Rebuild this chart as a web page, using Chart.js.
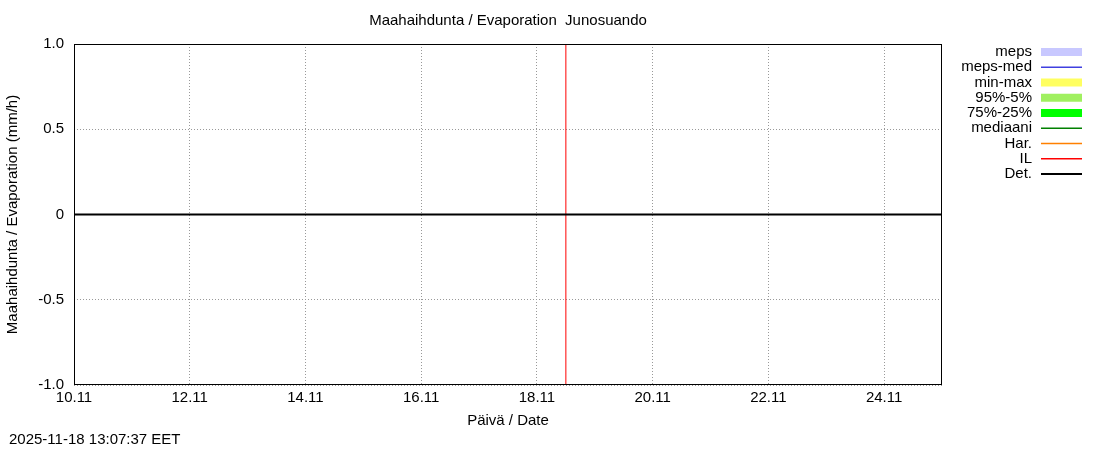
<!DOCTYPE html>
<html><head><meta charset="utf-8">
<script src="https://cdn.jsdelivr.net/npm/chart.js@4"></script>
<style>body{margin:0;background:#fff}#w{width:1100px;height:450px}</style>
</head><body><div id="w"><canvas id="c"></canvas></div>
<script>
const title = "Maahaihdunta / Evaporation  Junosuando";
const xTickLabels = ["10.11","12.11","14.11","16.11","18.11","20.11","22.11","24.11"]; // days from 10.11: 0,2,..14
const xTickDays = [0,2,4,6,8,10,12,14];
const yTicks = [-1,-0.5,0,0.5,1];
const detX = [0,15];
const detY = [0,0];
const ilX = [8.5,8.5];
const ilY = [-1,1];
const legendLabels = ["meps","meps-med","min-max","95%-5%","75%-25%","mediaani","Har.","IL","Det."];
const legendColors = ["#c8c8ff","#4040e0","#ffff60","#a0f060","#00ff00","#008000","#ff8000","#ff0000","#000000"];
const legendWidths = [8,1.5,8,8,8,1.5,1.5,1.5,2];
const stamp = "2025-11-18 13:07:37 EET";
const F = "'Liberation Sans', Arial, sans-serif";

const extras = {
  id:'extras',
  afterDraw(ch){
    const c = ch.ctx, a = ch.chartArea;
    c.save();
    c.fillStyle='#000'; c.font='15px '+F; c.textBaseline='middle';
    c.textAlign='center'; c.fillText(title,(a.left+a.right)/2,21);
    c.fillText("Päivä / Date",(a.left+a.right)/2,421);
    c.textAlign='left'; c.fillText(stamp,9,440);
    c.save(); c.translate(13,(a.top+a.bottom)/2); c.rotate(-Math.PI/2);
    c.textAlign='center'; c.fillText("Maahaihdunta / Evaporation (mm/h)",0,0); c.restore();
    c.textAlign='right';
    legendLabels.forEach((l,i)=>{
      const y = 52 + i*15.25;
      c.fillStyle='#000'; c.fillText(l,1032,y);
      c.strokeStyle=legendColors[i]; c.lineWidth=legendWidths[i];
      c.beginPath(); c.moveTo(1041,y); c.lineTo(1082,y); c.stroke();
    });
    c.strokeStyle='#000'; c.lineWidth=1;
    c.strokeRect(a.left+0.5,a.top+0.5,a.right-a.left-1,a.bottom-a.top-1);
    c.restore();
  }
};

new Chart(document.getElementById('c'),{
  type:'scatter',
  data:{datasets:[
    {label:'Det.',data:detX.map((x,i)=>({x,y:detY[i]})),showLine:true,borderColor:'#000',borderWidth:2,pointRadius:0},
    {label:'IL',data:ilX.map((x,i)=>({x,y:ilY[i]})),showLine:true,borderColor:'#ff0000',borderWidth:1,pointRadius:0}
  ]},
  options:{
    responsive:true,maintainAspectRatio:false,animation:false,
    layout:{padding:{top:44,right:158,left:0,bottom:0}},
    plugins:{legend:{display:false},tooltip:{enabled:false}},
    scales:{
      x:{type:'linear',min:0,max:15,
        afterBuildTicks(s){s.ticks=xTickDays.map(v=>({value:v}));},
        afterFit(s){s.height=65;},
        ticks:{color:'#000',font:{family:F,size:15},padding:4,maxRotation:0,
          callback:(v)=>{const i=xTickDays.indexOf(v);return i>=0?xTickLabels[i]:'';}},
        grid:{color:'#999',tickLength:0,drawTicks:false},border:{display:false,dash:[1,2]}},
      y:{min:-1,max:1,
        afterBuildTicks(s){s.ticks=yTicks.map(v=>({value:v}));},
        afterFit(s){s.width=74;},
        ticks:{color:'#000',font:{family:F,size:15},padding:10},
        grid:{color:'#999',drawTicks:false},border:{display:false,dash:[1,2]}}
    }
  },
  plugins:[extras]
});
</script></body></html>
